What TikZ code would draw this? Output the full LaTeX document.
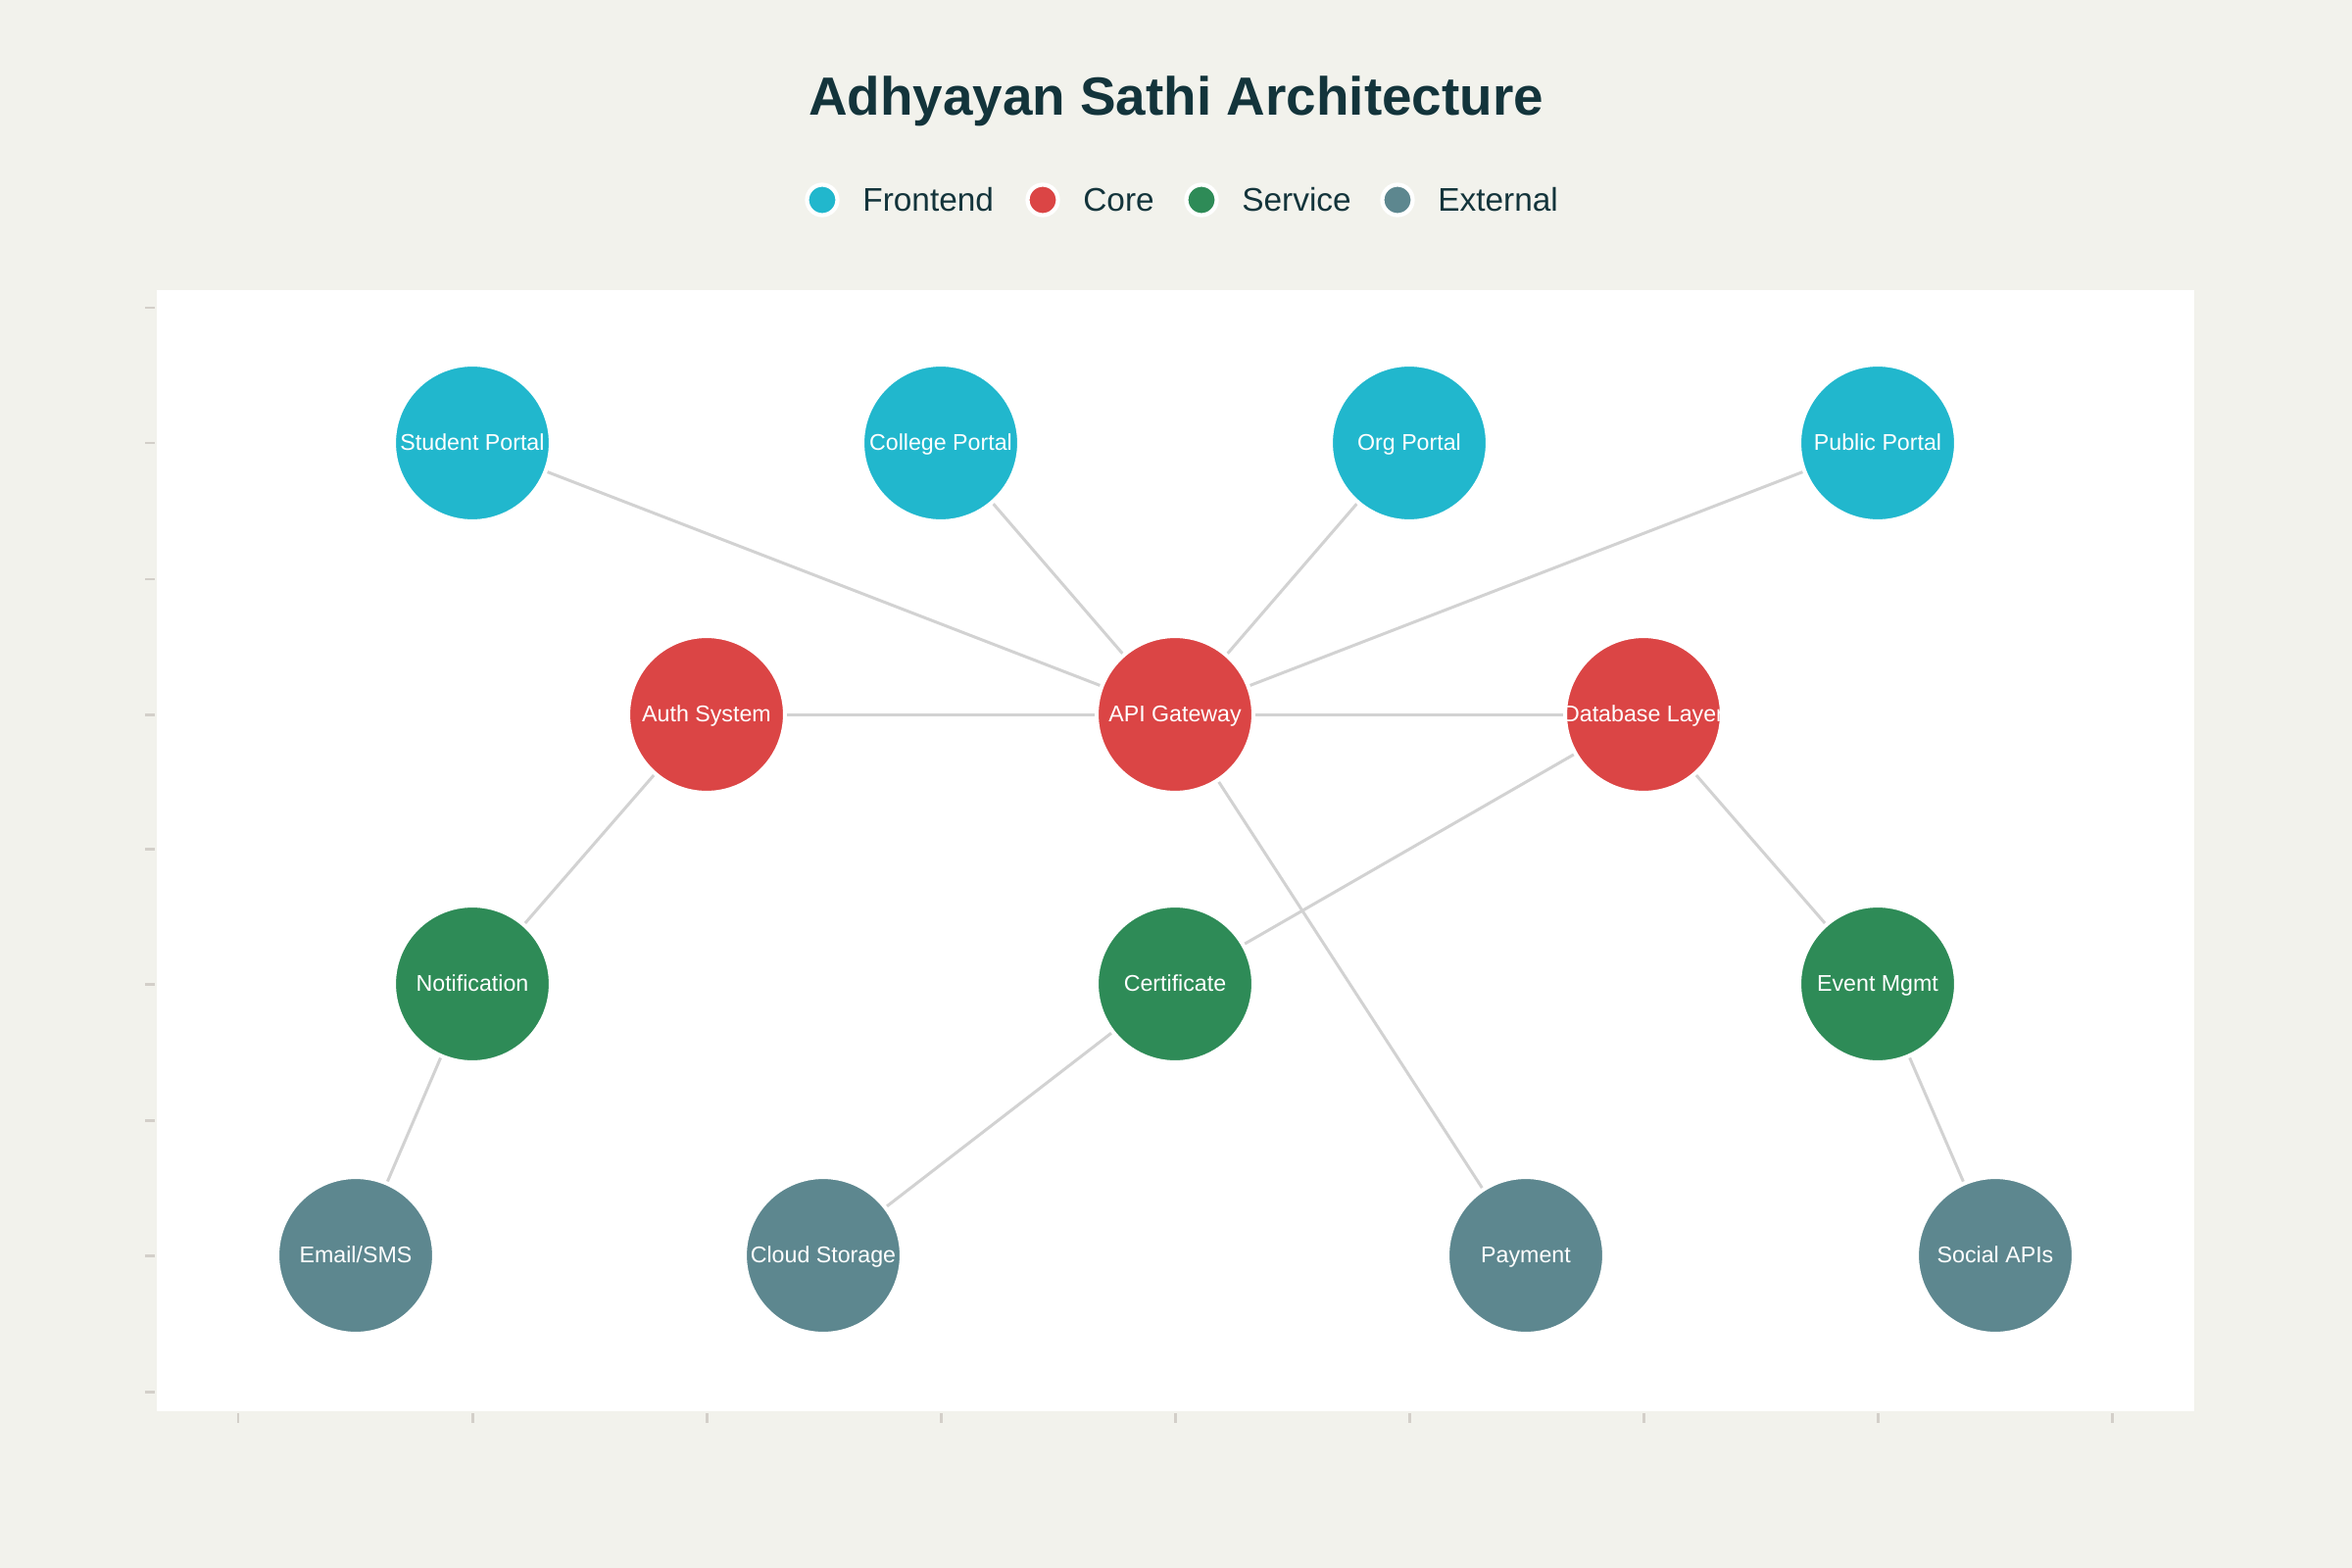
\documentclass[tikz,border=0pt]{standalone}
\usepackage{fontspec}
\setmainfont{Liberation Sans}
\usetikzlibrary{positioning}
\definecolor{Paper}{HTML}{F2F2EC}
\definecolor{Ink}{HTML}{13343B}
\definecolor{Front}{HTML}{21B7CD}
\definecolor{Core}{HTML}{DB4545}
\definecolor{Serv}{HTML}{2E8B57}
\definecolor{Ext}{HTML}{5D878F}
\definecolor{Edge}{HTML}{D2D2D2}
\definecolor{Tick}{HTML}{D3CFC9}

\begin{document}
\begin{tikzpicture}[
      x=0.01cm, y=-0.01cm,
      comp/.style={circle, draw=white, line width=1.2pt, minimum size=1.6cm,
                   inner sep=0pt, text=white, text height=5.2pt, text depth=1.2pt,
                   font=\fontsize{6.6}{8}\selectfont},
      front/.style={comp, fill=Front},
      core/.style={comp, fill=Core},
      serv/.style={comp, fill=Serv},
      ext/.style={comp, fill=Ext},
      dot/.style={circle, draw=white, line width=1.2pt, minimum size=0.31cm, inner sep=0pt},
      key/.style={inner sep=0pt, text=Ink, text height=7.4pt, text depth=1pt,
                  font=\fontsize{9.5}{11}\selectfont},
      link/.style={draw=Edge, line width=0.85pt},
      tick/.style={draw=Tick, line width=0.85pt}
    ]
      % canvas and plot area
      \fill[Paper] (0,0) rectangle (2400,1600);
      \useasboundingbox (0,0) rectangle (2400,1600);
      \fill[white] (160,296) rectangle (2239,1440);
      \foreach \y in {314,452,591,729,866,1004,1143,1281,1420}
        \draw[tick] (148,\y) -- (158,\y);
      \foreach \x in {243,482,721,960,1199,1438,1677,1916,2155}
        \draw[tick] (\x,1442) -- (\x,1452);

      % title and legend
      \node[font=\fontsize{15.6}{19}\selectfont\bfseries, text=Ink] (title) at (1200,103) {Adhyayan Sathi Architecture};
      \node[dot, fill=Front] (kf) at (839,204) {};
      \node[key, right=0.23cm of kf] (kft) {Frontend};
      \node[dot, fill=Core] (kc) at (1064,204) {};
      \node[key, right=0.23cm of kc] (kct) {Core};
      \node[dot, fill=Serv] (ks) at (1226,204) {};
      \node[key, right=0.23cm of ks] (kst) {Service};
      \node[dot, fill=Ext] (ke) at (1426,204) {};
      \node[key, right=0.23cm of ke] (ket) {External};

      % components
      \node[front] (student) at (482,452) {Student Portal};
      \node[front] (college) at (960,452) {College Portal};
      \node[front] (org) at (1438,452) {Org Portal};
      \node[front] (public) at (1916,452) {Public Portal};
      \node[core] (auth) at (721,729) {Auth System};
      \node[core] (api) at (1199,729) {API Gateway};
      \node[core] (db) at (1677,729) {\makebox[0pt]{Database Layer}};
      \node[serv] (notif) at (482,1004) {Notification};
      \node[serv] (cert) at (1199,1004) {Certificate};
      \node[serv] (event) at (1916,1004) {Event Mgmt};
      \node[ext] (mail) at (363,1281) {Email/SMS};
      \node[ext] (cloud) at (840,1281) {Cloud Storage};
      \node[ext] (pay) at (1557,1281) {Payment};
      \node[ext] (social) at (2036,1281) {Social APIs};

      % connections
      \draw[link] (student) -- (api);
      \draw[link] (college) -- (api);
      \draw[link] (org) -- (api);
      \draw[link] (public) -- (api);
      \draw[link] (auth) -- (api);
      \draw[link] (api) -- (db);
      \draw[link] (auth) -- (notif);
      \draw[link] (notif) -- (mail);
      \draw[link] (api) -- (pay);
      \draw[link] (db) -- (cert);
      \draw[link] (cert) -- (cloud);
      \draw[link] (db) -- (event);
      \draw[link] (event) -- (social);
    \end{tikzpicture}
\end{document}
